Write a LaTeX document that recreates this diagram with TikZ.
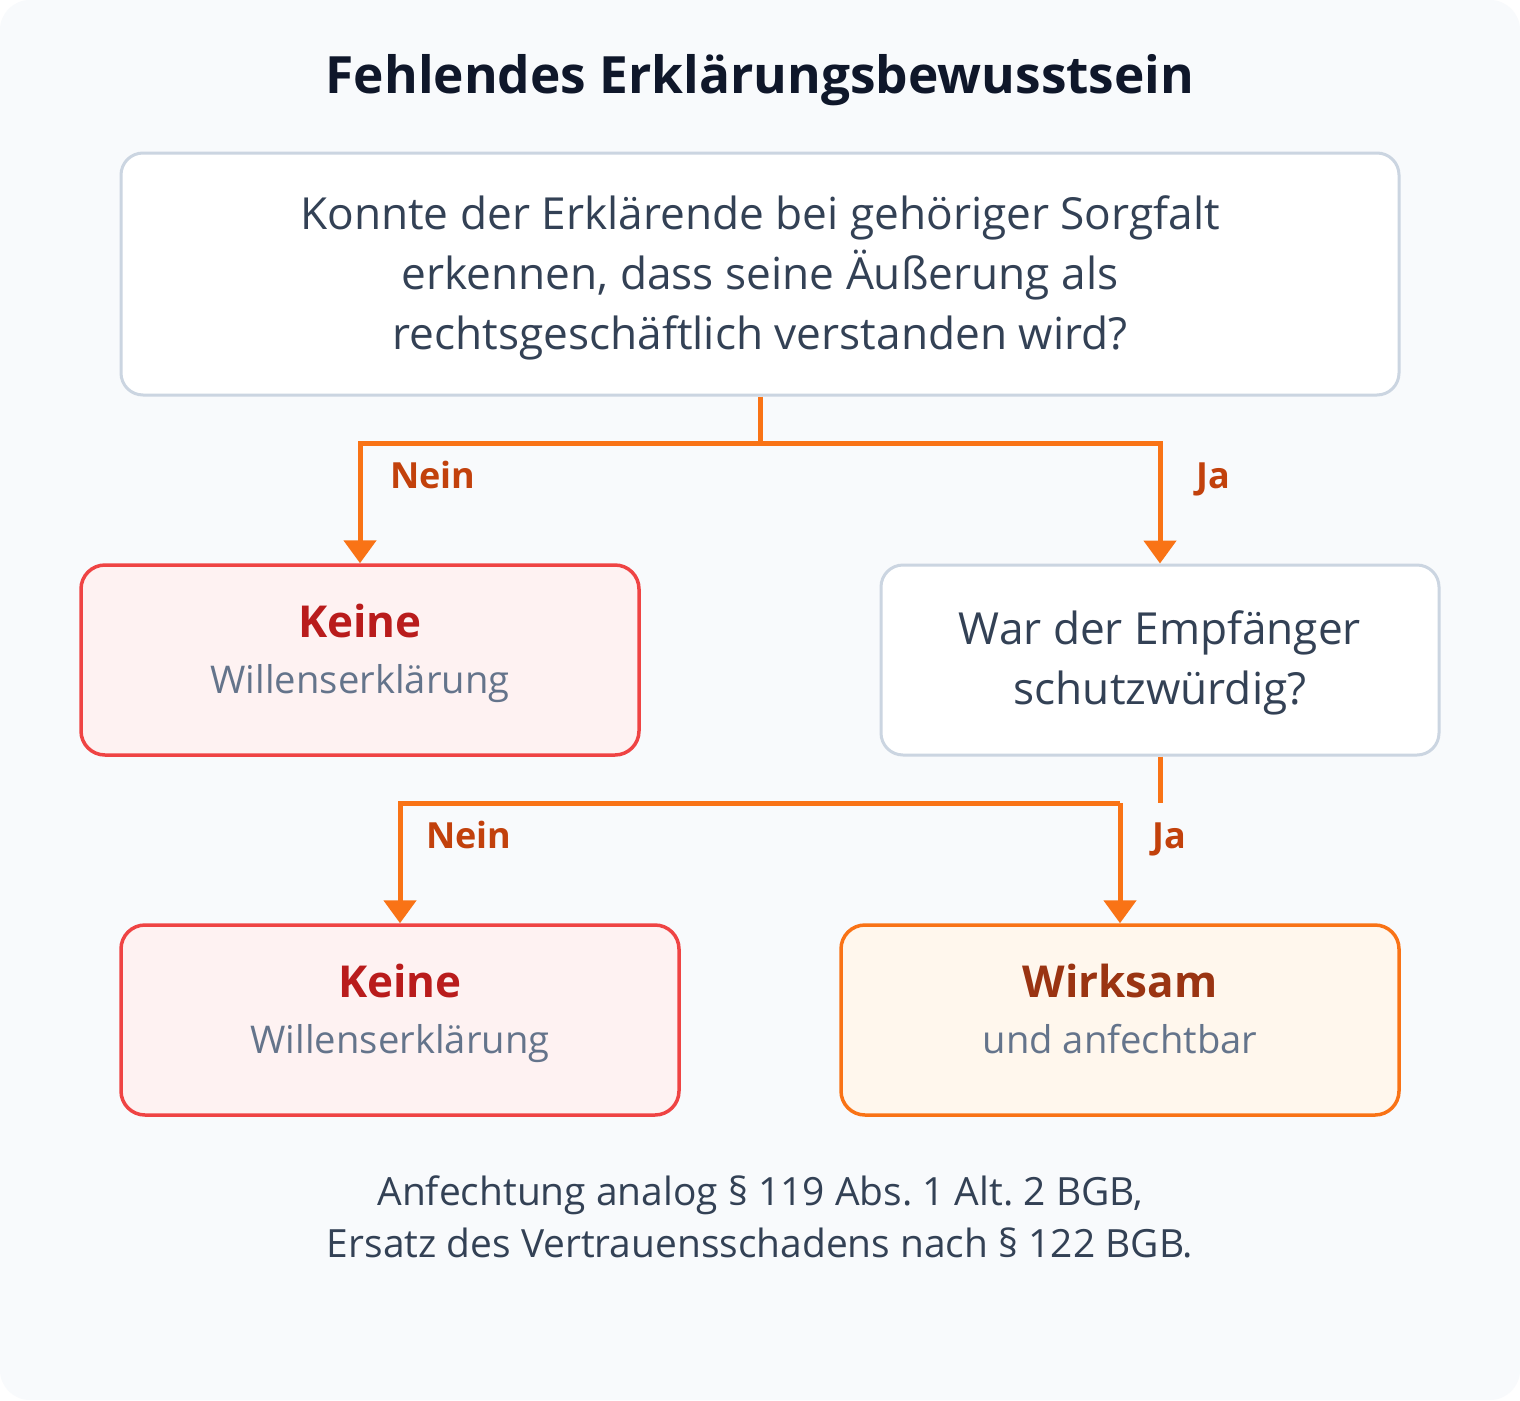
\documentclass[tikz,border=0pt]{standalone}
\usepackage{fontspec}
\setmainfont{Open Sans}
\usetikzlibrary{arrows.meta}
\frenchspacing
\definecolor{bgc}{HTML}{F8FAFC}
\definecolor{boxline}{HTML}{CBD5E1}
\definecolor{orng}{HTML}{F97316}
\definecolor{lbl}{HTML}{C2410C}
\definecolor{redline}{HTML}{EF4444}
\definecolor{redfill}{HTML}{FEF2F2}
\definecolor{redtext}{HTML}{B91C1C}
\definecolor{graytext}{HTML}{64748B}
\definecolor{orfill}{HTML}{FFF7ED}
\definecolor{wtext}{HTML}{9A3412}
\definecolor{bodytext}{HTML}{334155}
\definecolor{titletext}{HTML}{0F172A}
\newcommand{\fs}[1]{\fontsize{#1}{#1}\selectfont}
\tikzset{
  x=1pt, y=-1pt,
  qbox/.style={draw=boxline, fill=white, line width=3pt, rounded corners=22pt, inner sep=0pt},
  nobox/.style={draw=redline, fill=redfill, line width=3.5pt, rounded corners=24pt, inner sep=0pt, minimum width=558pt, minimum height=190pt},
  okbox/.style={draw=orng, fill=orfill, line width=3.5pt, rounded corners=24pt, inner sep=0pt, minimum width=558pt, minimum height=190pt},
  conn/.style={draw=orng, line width=5pt},
  tip/.style={-{Triangle[width=32pt,length=23pt]}},
  lab/.style={anchor=base, text=lbl, font=\bfseries\fs{36}, inner sep=0pt},
  qtext/.style={anchor=base, text=bodytext, font=\fs{44.2}, inner sep=0pt},
  head/.style={anchor=base, font=\bfseries\fs{44}, inner sep=0pt},
  sub/.style={anchor=base, text=graytext, font=\fs{38.2}, inner sep=0pt},
  foot/.style={anchor=base, text=bodytext, font=\fs{38.9}, inner sep=0pt}
}
\begin{document}
\begin{tikzpicture}
\useasboundingbox (0,0) rectangle (1520,1400);
\fill[white] (0,0) rectangle (1520,1400);
\fill[bgc, rounded corners=30pt] (0,0) rectangle (1520,1400);

\node[anchor=base, text=titletext, font=\bfseries\fs{51.4}, inner sep=0pt] (title) at (760,93) {Fehlendes Erklärungsbewusstsein};

% question 1
\node[qbox, minimum width=1278pt, minimum height=242pt] (q1) at (760,274) {};
\node[qtext] (q1a) at (760,229) {Konnte der Erklärende bei gehöriger Sorgfalt};
\node[qtext] (q1b) at (760,289) {erkennen, dass seine Äußerung als};
\node[qtext] (q1c) at (760,349) {rechtsgeschäftlich verstanden wird?};

% level 2
\node[nobox] (k1) at (360,660) {};
\node[head, text=redtext] (k1a) at (360,637) {Keine};
\node[sub] (k1b) at (360,693) {Willenserklärung};

\node[qbox, minimum width=558pt, minimum height=190pt] (q2) at (1160,660) {};
\node[qtext] (q2a) at (1160,644) {War der Empfänger};
\node[qtext] (q2b) at (1160,704) {schutzwürdig?};

% level 3
\node[nobox] (k2) at (400,1020) {};
\node[head, text=redtext] (k2a) at (400,997) {Keine};
\node[sub] (k2b) at (400,1053) {Willenserklärung};

\node[okbox] (w) at (1120,1020) {};
\node[head, text=wtext] (wa) at (1120,997) {Wirksam};
\node[sub] (wb) at (1120,1053) {und anfechtbar};

% footer
\node[foot] (f1) at (760,1205) {Anfechtung analog § 119 Abs. 1 Alt. 2 BGB,};
\node[foot] (f2) at (760,1257) {Ersatz des Vertrauensschadens nach § 122 BGB.};

% connectors level 1
\draw[conn] (q1.south) -- (760,443) coordinate (j1);
\draw[conn, tip] (j1) -| (k1.north);
\draw[conn, tip] (j1) -| (q2.north);
\node[lab] (n1) at (433,488) {Nein};
\node[lab] (y1) at (1213,488) {Ja};

% connectors level 2
\coordinate (s2) at (1160,803);
\draw[conn] (q2.south) -- (s2);
\coordinate (j2) at (1120,803);
\draw[conn, tip] (j2) -| (k2.north);
\draw[conn, tip] (j2) -- (w.north);
\node[lab] (n2) at (469,848) {Nein};
\node[lab] (y2) at (1169,848) {Ja};
\end{tikzpicture}
\end{document}
